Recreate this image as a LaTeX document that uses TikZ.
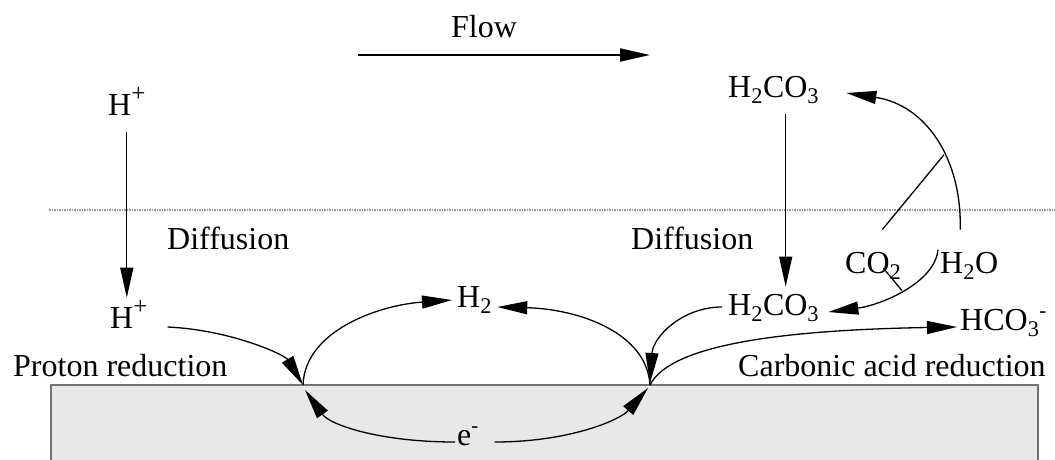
\documentclass[tikz,border=0pt]{standalone}
\usepackage{fontspec}
\setmainfont{Liberation Serif}
\usetikzlibrary{arrows.meta}
\newcommand{\figfont}{\fontsize{32}{38}\selectfont}
\newcommand{\chplus}{\raisebox{14pt}{\fontsize{25}{25}\selectfont +}}
\newcommand{\chminus}{\raisebox{13pt}{\fontsize{21}{21}\selectfont -}}
\tikzset{
    chem/.style={inner sep=0pt, anchor=base west, font=\figfont},
    note/.style={inner sep=0pt, anchor=base west, font=\figfont},
    arrow/.style={-{Triangle[length=30pt, width=13pt]}, line width=1.3pt, draw=black},
    link/.style={line width=1.3pt, draw=black},
    surface/.style={draw=black!55, fill=black!9, line width=1.5pt},
    boundary/.style={draw=black!40, line width=1.5pt, dash pattern=on 1.5pt off 1pt}
}

\begin{document}
\begin{tikzpicture}[x=1pt, y=-1pt]
        \useasboundingbox (0,0) rectangle (1055,459);

        % Metallo e bordo dello strato limite
        \draw [surface] (51,385) rectangle (1038,475);
        \draw [boundary] (49,210) -- (1055,210);
        \coordinate (siteL) at (303,385);
        \coordinate (siteR) at (650,385);

        % Testi
        \node (flow) [note, anchor=base] at (484,37) {Flow};
        \coordinate (flowstart) at (358,55);
        \coordinate (flowend) at (650,55);
        \node (difl) [note] at (167,249) {Diffusion};
        \node (difr) [note] at (631,249) {Diffusion};
        \node (proton) [note] at (13,376) {Proton reduction};
        \node (carbonic) [note] at (738,376) {Carbonic acid reduction};

        % Specie
        \node (hbulk) [chem] at (108,115) {H\chplus};
        \node (hsurf) [chem] at (110,328) {H\chplus};
        \node (hyd) [chem] at (457,307) {H\textsubscript{2}};
        \node (elec) [chem] at (457,445) {e\chminus};
        \node (acidbulk) [chem] at (728,97) {H\textsubscript{2}CO\textsubscript{3}};
        \node (acidsurf) [chem] at (728,315) {H\textsubscript{2}CO\textsubscript{3}};
        \node (co2) [chem] at (845,273) {CO\textsubscript{2}};
        \node (water) [chem] at (940,273) {H\textsubscript{2}O};
        \node (bicarb) [chem] at (960,330) {HCO\textsubscript{3}\chminus};

        % Connessioni
        \draw [arrow, line width=1.9pt] (flowstart) -- (flowend);
        \draw [arrow] ([yshift=-17pt]hbulk.south) -- ([yshift=2pt]hsurf.north -| hbulk.south);
        \draw [arrow] ([xshift=20pt, yshift=1pt]hsurf.base east) .. controls +(64,3) and +(-18,-30) .. (siteL);
        \draw [arrow] (siteL) .. controls +(2,-55) and +(-72,5) .. ([xshift=-5pt, yshift=7pt]hyd.base west);
        \draw [arrow] (siteR) .. controls +(-3,-52) and +(82,2) .. ([xshift=5pt]hyd.base east);
        \draw [arrow] ([xshift=-2pt, yshift=3pt]elec.base west) .. controls +(-75,0) and +(25,35) .. ([xshift=2pt, yshift=-5pt]siteL);
        \draw [arrow] ([xshift=16pt, yshift=3pt]elec.base east) .. controls +(75,0) and +(-28,32) .. ([xshift=-2pt, yshift=-3pt]siteR);

        \draw [arrow] ([xshift=12pt, yshift=-10pt]acidbulk.south) -- ([xshift=12pt, yshift=7pt]acidsurf.north);
        \draw [arrow] ([xshift=-6pt, yshift=8pt]acidsurf.base west) .. controls +(-40,0) and +(3,-46) .. ([yshift=2pt]siteR);
        \draw [arrow] (siteR) .. controls +(20,-40) and +(-177,3) .. ([xshift=-3pt, yshift=3pt]bicarb.base west);

        \draw [arrow] ([xshift=-9pt, yshift=22pt]water.north) .. controls +(2,-70) and +(80,12) .. coordinate [pos=0.4] (join1) ([xshift=27pt, yshift=4pt]acidbulk.base east);
        \draw [link] ([xshift=9pt, yshift=22pt]co2.north) -- (join1);
        \draw [arrow] ([xshift=-2pt, yshift=2pt]water.north west) .. controls +(-3,33) and +(53,-7) .. coordinate [pos=0.5] (join2) ([xshift=9pt, yshift=3pt]acidsurf.base east);
        \draw [link] ([xshift=10pt, yshift=5pt]co2.base) -- (join2);

    \end{tikzpicture}
\end{document}
